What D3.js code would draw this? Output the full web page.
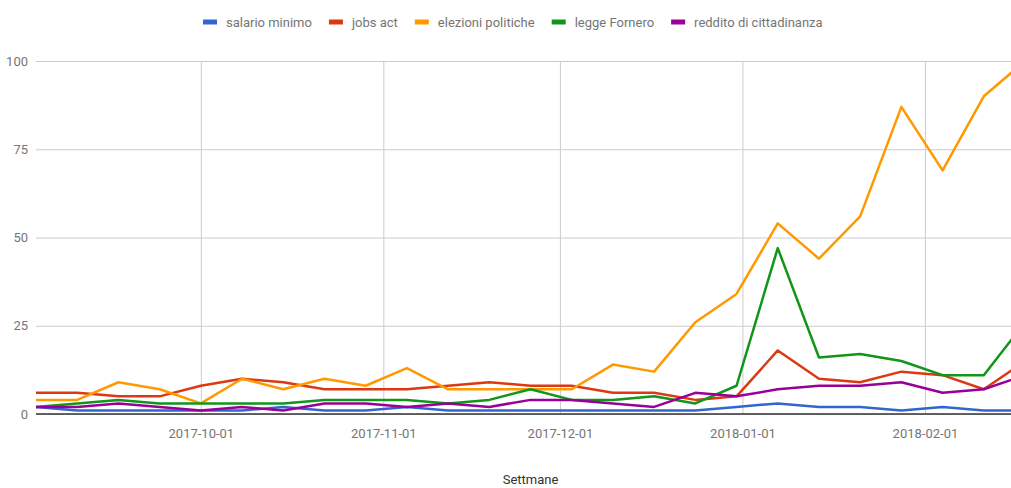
<!DOCTYPE html>
<html>
<head>
<meta charset="utf-8">
<script src="https://cdnjs.cloudflare.com/ajax/libs/d3/7.8.5/d3.min.js"></script>
<style>
    body { margin: 0; background: #fff; }
    text { font-family: Roboto, "Noto Sans", sans-serif; }
</style>
</head>
<body>
<div id="chart"></div>
<script>
// weekly data, one value per sunday
const weeks = ["2017-09-03", "2017-09-10", "2017-09-17", "2017-09-24", "2017-10-01", "2017-10-08",
    "2017-10-15", "2017-10-22", "2017-10-29", "2017-11-05", "2017-11-12", "2017-11-19",
    "2017-11-26", "2017-12-03", "2017-12-10", "2017-12-17", "2017-12-24", "2017-12-31",
    "2018-01-07", "2018-01-14", "2018-01-21", "2018-01-28", "2018-02-04", "2018-02-11", "2018-02-18"];

const seriesNames = ["salario minimo", "jobs act", "elezioni politiche", "legge Fornero", "reddito di cittadinanza"];
const seriesColors = ["#3366cc", "#dc3912", "#ff9900", "#109618", "#990099"];

const salarioMinimo = [2, 1, 1, 1, 1, 1, 2, 1, 1, 2, 1, 1, 1, 1, 1, 1, 1, 2, 3, 2, 2, 1, 2, 1, 1];
const jobsAct = [6, 6, 5, 5, 8, 10, 9, 7, 7, 7, 8, 9, 8, 8, 6, 6, 4, 5, 18, 10, 9, 12, 11, 7, 15];
const elezioniPolitiche = [4, 4, 9, 7, 3, 10, 7, 10, 8, 13, 7, 7, 7, 7, 14, 12, 26, 34, 54, 44, 56, 87, 69, 90, 100];
const leggeFornero = [2, 3, 4, 3, 3, 3, 3, 4, 4, 4, 3, 4, 7, 4, 4, 5, 3, 8, 47, 16, 17, 15, 11, 11, 26];
const redditoCittadinanza = [2, 2, 3, 2, 1, 2, 1, 3, 3, 2, 3, 2, 4, 4, 3, 2, 6, 5, 7, 8, 8, 9, 6, 7, 11];

const yTicks = [0, 25, 50, 75, 100];
const xTicks = ["2017-10-01", "2017-11-01", "2017-12-01", "2018-01-01", "2018-02-01"];
const xTitle = "Settmane";

const allValues = [salarioMinimo, jobsAct, elezioniPolitiche, leggeFornero, redditoCittadinanza];

const width = 1011, height = 488;
// chart area runs a bit past the right edge of the picture
const area = {left: 36, right: 1025, top: 61, bottom: 414};

const parse = d3.timeParse("%Y-%m-%d");
const fmt = d3.timeFormat("%Y-%m-%d");

const svg = d3.select("#chart").append("svg")
    .attr("width", width)
    .attr("height", height);

const x = d3.scaleTime()
    .domain([parse(weeks[0]), parse(weeks[weeks.length - 1])])
    .range([area.left, area.right]);

const y = d3.scaleLinear()
    .domain([0, 100])
    .range([area.bottom, area.top]);

// horizontal gridlines + y labels
const yAxis = d3.axisLeft(y)
    .tickValues(yTicks)
    .tickSize(-(area.right - area.left))
    .tickPadding(8);

svg.append("g")
    .attr("transform", `translate(${area.left},0)`)
    .call(yAxis)
    .call(g => g.select(".domain").remove())
    .call(g => g.selectAll(".tick line").attr("stroke", "#cccccc"))
    .call(g => g.selectAll(".tick text")
        .attr("fill", "#757575")
        .style("font-size", "13px"));

// vertical gridlines + x labels
const xAxis = d3.axisBottom(x)
    .tickValues(xTicks.map(parse))
    .tickFormat(fmt)
    .tickSize(-(area.bottom - area.top))
    .tickPadding(15);

svg.append("g")
    .attr("transform", `translate(0,${area.bottom})`)
    .call(xAxis)
    .call(g => g.select(".domain").remove())
    .call(g => g.selectAll(".tick line").attr("stroke", "#cccccc"))
    .call(g => g.selectAll(".tick text")
        .attr("fill", "#757575")
        .style("font-size", "13px"));

// baseline
svg.append("line")
    .attr("x1", area.left).attr("x2", area.right)
    .attr("y1", y(0)).attr("y2", y(0))
    .attr("stroke", "#333333")
    .attr("stroke-width", 1.5);

// lines
const line = d3.line()
    .x((d, i) => x(parse(weeks[i])))
    .y(d => y(d));

svg.append("g")
    .selectAll("path")
    .data(allValues)
    .enter().append("path")
    .attr("d", d => line(d))
    .attr("fill", "none")
    .attr("stroke", (d, i) => seriesColors[i])
    .attr("stroke-width", 2.5)
    .attr("stroke-linejoin", "round");

// legend on top
const legend = svg.append("g").attr("transform", "translate(203,22)");
let lx = 0;
seriesNames.forEach((name, i) => {
    let item = legend.append("g").attr("transform", `translate(${lx},0)`);
    item.append("rect")
        .attr("x", 0).attr("y", -2.5)
        .attr("width", 14).attr("height", 5)
        .attr("fill", seriesColors[i]);
    let t = item.append("text")
        .attr("x", 23).attr("y", 0)
        .attr("dy", "0.35em")
        .attr("fill", "#757575")
        .style("font-size", "13px")
        .text(name);
    lx += 23 + t.node().getComputedTextLength() + 17;
});

// axis title
svg.append("text")
    .attr("x", (area.left + area.right) / 2)
    .attr("y", 479)
    .attr("text-anchor", "middle")
    .attr("dy", "0.35em")
    .attr("fill", "#333333")
    .style("font-size", "13px")
    .text(xTitle);
</script>
</body>
</html>
